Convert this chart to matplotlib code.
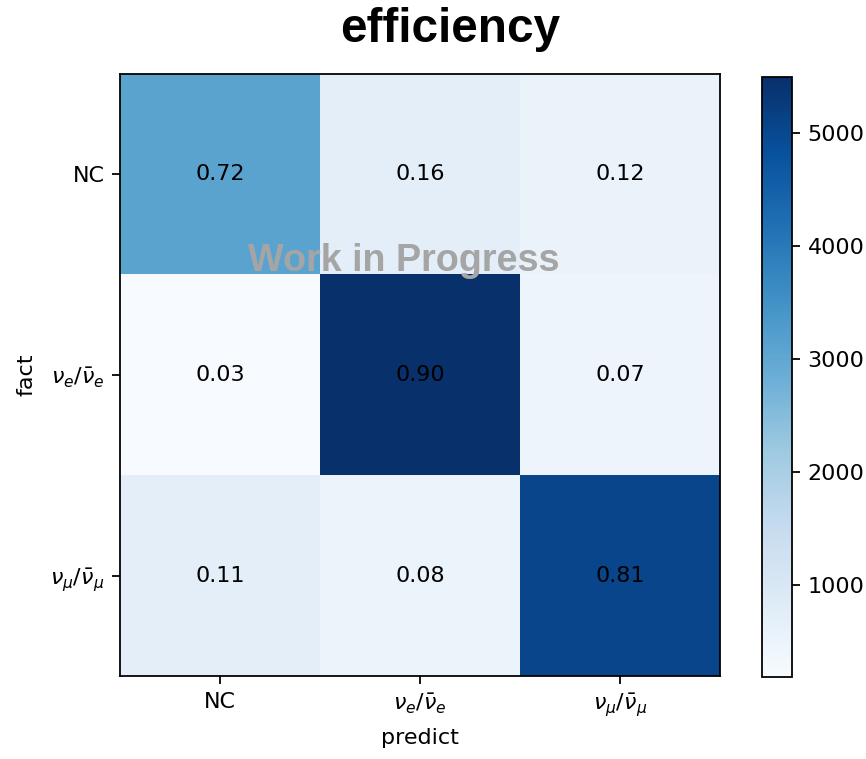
import numpy as np
import matplotlib
matplotlib.use("Agg")
import matplotlib.pyplot as plt

labels = ["NC", r"$\nu_e/\bar{\nu}_e$", r"$\nu_\mu/\bar{\nu}_\mu$"]
# underlying counts (rows: fact, cols: predict)
counts = np.array([
    [3100, 690, 520],
    [180, 5500, 430],
    [700, 510, 5050],
])
efficiency = np.array([
    [0.72, 0.16, 0.12],
    [0.03, 0.90, 0.07],
    [0.11, 0.08, 0.81],
])

fig = plt.figure(figsize=(866/160, 759/160), dpi=160)
ax = fig.add_axes([120/866, 1-676/759, 600/866, 602/759])
cax = fig.add_axes([762/866, 1-677/759, 30/866, 600/759])

im = ax.imshow(counts, cmap="Blues", interpolation="nearest", aspect="auto")
cb = fig.colorbar(im, cax=cax)
cb.set_ticks([1000, 2000, 3000, 4000, 5000])

for i in range(3):
    for j in range(3):
        ax.text(j, i, f"{efficiency[i, j]:.2f}", ha="center", va="center", color="black", fontsize=10)

ax.set_xticks(range(3))
ax.set_xticklabels(labels)
ax.set_yticks(range(3))
ax.set_yticklabels(labels)
ax.set_xlabel("predict")
ax.set_ylabel("fact", labelpad=6)

fig.text(450/866, 1-30/759, "efficiency", ha="center", va="center",
         fontsize=21.5, fontweight="bold", family="Liberation Sans")
ax.text(0.473, 0.689, "Work in Progress", transform=ax.transAxes, ha="center", va="center",
        fontsize=17, fontweight="bold", color="#a5a5a5", family="Liberation Sans")

fig.savefig("out.png", dpi=160)
